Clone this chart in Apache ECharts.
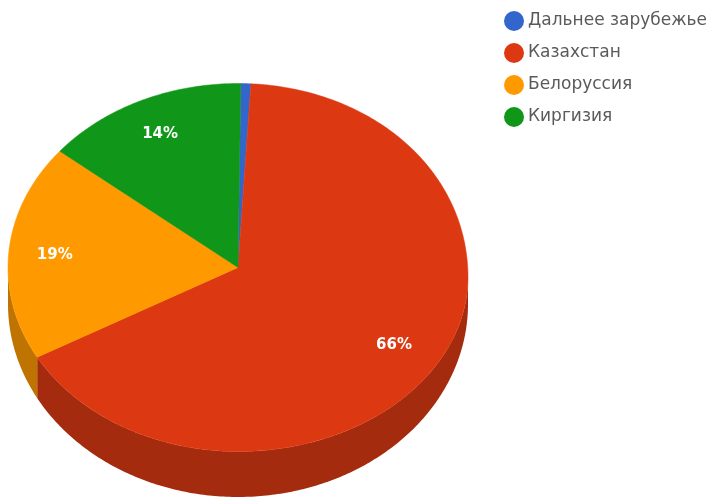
<!DOCTYPE html>
<html><head><meta charset="utf-8">
<style>html,body{margin:0;padding:0;background:#fff}#c{width:715px;height:498px}</style>
<script src="https://cdn.jsdelivr.net/npm/echarts@6/dist/echarts.min.js"></script>
</head><body><div id="c"></div>
<script>
const categories = ['Дальнее зарубежье','Казахстан','Белоруссия','Киргизия'];
const values = [0.7,66,19,14.3];
const topColors = ['#3366cc','#dc3912','#ff9900','#109618'];
const sideColors = ['#264d99','#a52b0e','#bf7300','#0c7012'];

const CX=238, CY=267.5, RX=230, RY=184, LOW_CY=304, LOW_RY=193, LABEL_F=0.8, START=0.7/360*Math.PI*2;
const total = values.reduce((a,b)=>a+b,0);
const starts=[]; let acc=0;
values.forEach(v=>{starts.push(acc); acc+=v;});
const ang = p => START+p/total*Math.PI*2;           // clockwise from 12 o'clock
const bump = a => {                                 // the rim sags a little on the right in the reference
  const d=a*180/Math.PI;
  if(d<=0||d>=180) return 0;
  return d<90 ? 10*Math.pow(d/90,3) : 10*Math.pow(1-(d-90)/90,2);
};
const rim = a => [CX+RX*Math.sin(a), CY-RY*Math.cos(a)+bump(a)];
const low = a => [CX+RX*Math.sin(a), LOW_CY-LOW_RY*Math.cos(a)];
const arc = (f,s,e) => { const n=Math.max(2,Math.ceil((e-s)*80)), o=[];
  for(let k=0;k<=n;k++) o.push(f(s+(e-s)*k/n)); return o; };

function renderSlice(i){
  return function(){
    const a0=ang(starts[i]), a1=ang(starts[i]+values[i]);
    const children=[];
    const s=Math.max(a0,Math.PI/2), e=Math.min(a1,Math.PI*1.5);
    if(e>s){
      children.push({type:'polygon',z2:1,shape:{points:arc(rim,s,e).concat(arc(low,s,e).reverse())},style:{fill:sideColors[i]}});
    }
    children.push({type:'polygon',z2:2,shape:{points:[[CX,CY]].concat(arc(rim,a0,a1))},
      style:{fill:topColors[i],stroke:topColors[i],lineWidth:0.5}});
    if(values[i]>=5){
      const m=(a0+a1)/2;
      children.push({type:'text',z2:3,x:CX+RX*LABEL_F*Math.sin(m),y:CY-RY*LABEL_F*Math.cos(m),
        style:{text:Math.round(values[i])+'%',fill:'#fff',font:'bold 15px "DejaVu Sans",sans-serif',align:'center',verticalAlign:'middle'}});
    }
    return {type:'group',children};
  };
}
const chart=echarts.init(document.getElementById('c'),null,{renderer:'canvas'});
chart.setOption({
  animation:false,
  backgroundColor:'#fff',
  color:topColors,
  legend:{show:true,orient:'vertical',left:499,top:6,icon:'circle',itemWidth:20,itemHeight:20,itemGap:12,
    data:categories,selectedMode:false,
    textStyle:{color:'#5a5a5a',fontSize:17,fontFamily:'"DejaVu Sans",sans-serif',padding:[0,0,0,-1]}},
  series:categories.map((name,i)=>({
    type:'custom',name,coordinateSystem:'none',
    data:[values[i]],renderItem:renderSlice(i),silent:true,
    itemStyle:{color:topColors[i]}
  }))
});
</script></body></html>
